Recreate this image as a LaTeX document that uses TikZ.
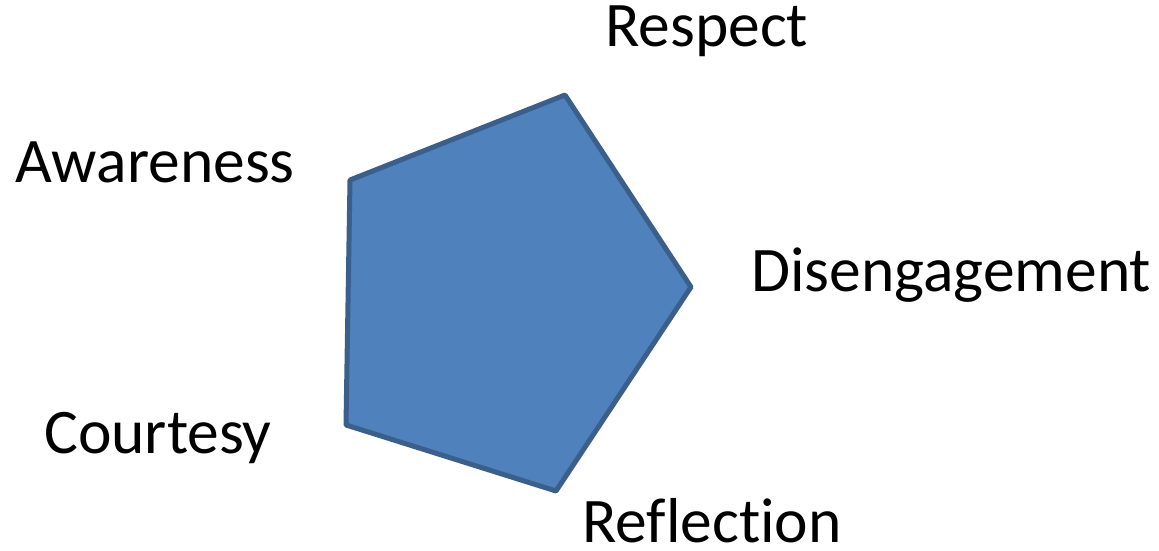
\documentclass[tikz,border=0pt]{standalone}
\usepackage{fontspec}
\setmainfont{Carlito}[Ligatures=NoCommon]
\definecolor{penfill}{HTML}{4F81BD}
\definecolor{pendraw}{HTML}{3A5F8B}
\begin{document}
\begin{tikzpicture}[x=1pt,y=1pt,
  lbl/.style={anchor=base west,inner sep=0pt,font=\fontsize{63.5}{72}\selectfont},
  pent/.style={fill=penfill,draw=pendraw,line width=5pt,line join=round}]
\useasboundingbox (0,0) rectangle (1159,550);
\coordinate (v1) at (565,455);
\coordinate (v2) at (691,263);
\coordinate (v3) at (556,59);
\coordinate (v4) at (346,125);
\coordinate (v5) at (350,370);
\draw[pent] (v1) -- (v2) -- (v3) -- (v4) -- (v5) -- cycle;
\node[lbl] (respect) at (605,503) {Respect};
\node[lbl] (aware) at (15,367) {Awareness};
\node[lbl] (diseng) at (751,259) {Disengagement};
\node[lbl] (court) at (44,97) {Courtesy};
\node[lbl] (refl) at (582,8) {Reflection};
\end{tikzpicture}
\end{document}
